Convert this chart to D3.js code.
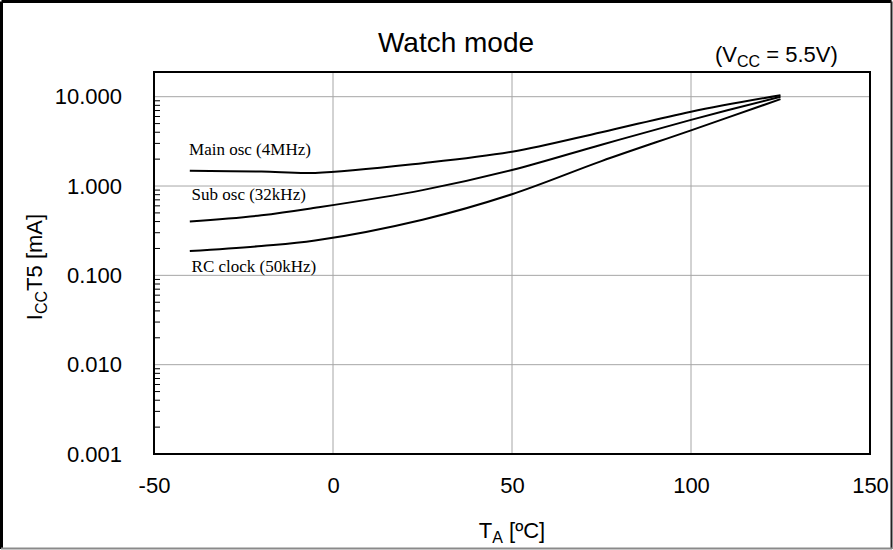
<!DOCTYPE html>
<html>
<head>
<meta charset="utf-8">
<script src="https://cdn.jsdelivr.net/npm/d3@7"></script>
<style>
  body { margin: 0; background: #fff; }
  svg { display: block; font-family: "Liberation Sans", Arial, sans-serif; }
</style>
</head>
<body>
<div id="chart"></div>
<script>
'use strict';

// data
let temps = [-40, -20, -5, 25, 50, 75, 100, 125];
let mainOsc = [1.48, 1.45, 1.40, 1.80, 2.42, 4.0, 6.8, 10.4];
let subOsc = [0.40, 0.47, 0.57, 0.90, 1.51, 2.9, 5.5, 10.0];
let rcClock = [0.187, 0.213, 0.245, 0.42, 0.81, 1.9, 4.2, 9.4];

let xTicks = [-50, 0, 50, 100, 150];
let yTicks = [0.001, 0.01, 0.1, 1, 10];

let width = 893,
    height = 550,
    margin = { top: 72, right: 23, bottom: 96, left: 154 };

let svg = d3.select('#chart').append('svg')
    .attr('width', width)
    .attr('height', height);

// outer frame
let frame = svg.append('g');
frame.append('line').attr('x1', 1.5).attr('y1', 1.5).attr('x2', width - 1.5).attr('y2', 1.5)
    .attr('stroke', '#000').attr('stroke-width', 3);
frame.append('line').attr('x1', 1.5).attr('y1', 1.5).attr('x2', 1.5).attr('y2', height - 1)
    .attr('stroke', '#000').attr('stroke-width', 3);
frame.append('line').attr('x1', width - 1.5).attr('y1', 1.5).attr('x2', width - 1.5).attr('y2', height - 1)
    .attr('stroke', '#222').attr('stroke-width', 2);
frame.append('line').attr('x1', 1).attr('y1', height - 1.5).attr('x2', width - 1).attr('y2', height - 1.5)
    .attr('stroke', '#8a8a8a').attr('stroke-width', 2);

let w = width - margin.left - margin.right,
    h = height - margin.top - margin.bottom;

let g = svg.append('g')
    .attr('transform', 'translate(' + margin.left + ',' + margin.top + ')');

let x = d3.scaleLinear().domain([-50, 150]).range([0, w]);
let y = d3.scaleLog().domain([0.001, 18.9]).range([h, 0]);

// grid lines
g.append('g').selectAll('line')
    .data(xTicks.slice(1, -1))
    .enter().append('line')
    .attr('x1', d => x(d)).attr('x2', d => x(d))
    .attr('y1', 0).attr('y2', h)
    .attr('stroke', '#a6a6a6').attr('stroke-width', 1);

g.append('g').selectAll('line')
    .data(yTicks.slice(1))
    .enter().append('line')
    .attr('x1', 0).attr('x2', w)
    .attr('y1', d => y(d)).attr('y2', d => y(d))
    .attr('stroke', '#a6a6a6').attr('stroke-width', 1);

// minor ticks on log axis (inside)
let minor = [];
yTicks.forEach(function(t) {
    for (let k = 2; k <= 9; k++) {
        if (t * k <= 18.9) minor.push(t * k);
    }
});
g.append('g').selectAll('line')
    .data(minor)
    .enter().append('line')
    .attr('x1', 0).attr('x2', 6)
    .attr('y1', d => y(d)).attr('y2', d => y(d))
    .attr('stroke', '#000').attr('stroke-width', 1);

// plot border
g.append('rect')
    .attr('width', w).attr('height', h)
    .attr('fill', 'none')
    .attr('stroke', '#000')
    .attr('stroke-width', 2);

// axes labels
let xAxis = d3.axisBottom(x).tickValues(xTicks).tickSize(0).tickPadding(23)
    .tickFormat(d => String(d));
let gX = g.append('g')
    .attr('transform', 'translate(0,' + h + ')')
    .call(xAxis);
gX.select('.domain').remove();
gX.selectAll('text')
    .style('font-size', '22px')
    .style('font-family', '"Liberation Sans", Arial, sans-serif')
    .attr('fill', '#000');

let yAxis = d3.axisLeft(y).tickValues(yTicks).tickSize(0).tickPadding(32)
    .tickFormat(d3.format('.3f'));
let gY = g.append('g').call(yAxis);
gY.select('.domain').remove();
gY.selectAll('text')
    .style('font-size', '22px')
    .style('font-family', '"Liberation Sans", Arial, sans-serif')
    .attr('fill', '#000');

// curves
let series = [mainOsc, subOsc, rcClock];
let line = d3.line()
    .x((d, i) => x(temps[i]))
    .y(d => y(d))
    .curve(d3.curveCatmullRom.alpha(0.5));

g.append('g').selectAll('path')
    .data(series)
    .enter().append('path')
    .attr('d', line)
    .attr('fill', 'none')
    .attr('stroke', '#000')
    .attr('stroke-width', 2);

// curve labels
let labels = [
    { text: 'Main osc (4MHz)', t: -40.2, v: 2.22 },
    { text: 'Sub osc (32kHz)', t: -39.5, v: 0.70 },
    { text: 'RC clock (50kHz)', t: -39.5, v: 0.11 }
];
g.append('g').selectAll('text')
    .data(labels)
    .enter().append('text')
    .attr('x', d => x(d.t))
    .attr('y', d => y(d.v))
    .style('font-family', '"Liberation Serif", "Times New Roman", serif')
    .style('font-size', '17px')
    .text(d => d.text);

// title
svg.append('text')
    .attr('x', 456).attr('y', 52)
    .attr('text-anchor', 'middle')
    .style('font-size', '28px')
    .text('Watch mode');

let vcc = svg.append('text')
    .attr('x', 715).attr('y', 62)
    .style('font-size', '22px');
vcc.append('tspan').text('(V');
vcc.append('tspan').attr('dy', 5).style('font-size', '16px').text('CC');
vcc.append('tspan').attr('dy', -5).text(' = 5.5V)');

// x axis title
let xt = svg.append('text')
    .attr('x', margin.left + w / 2).attr('y', 538)
    .attr('text-anchor', 'middle')
    .style('font-size', '22px');
xt.append('tspan').text('T');
xt.append('tspan').attr('dy', 5).style('font-size', '16px').text('A');
xt.append('tspan').attr('dy', -5).text(' [ºC]');

// y axis title
let yt = svg.append('text')
    .attr('transform', 'translate(42,267) rotate(-90)')
    .attr('text-anchor', 'middle')
    .style('font-size', '22px');
yt.append('tspan').text('I');
yt.append('tspan').attr('dy', 5).style('font-size', '16px').text('CC');
yt.append('tspan').attr('dy', -5).text('T5 [mA]');
</script>
</body>
</html>
